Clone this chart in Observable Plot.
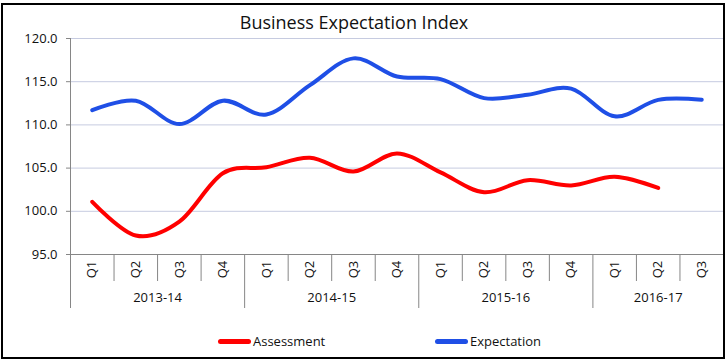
<!DOCTYPE html>
<html><head><meta charset="utf-8">
<script src="https://cdn.jsdelivr.net/npm/d3@7"></script>
<script src="https://cdn.jsdelivr.net/npm/@observablehq/plot@0.6"></script>
<style>
body{margin:0;background:#fff;font-family:"Open Sans",sans-serif;}
#wrap{position:relative;width:728px;height:362px;overflow:hidden;}
#frame{position:absolute;left:1px;top:3px;width:724px;height:356px;box-sizing:border-box;border:2px solid #000;pointer-events:none;}
#title{position:absolute;left:0;top:10px;width:708px;text-align:center;font-size:18px;line-height:24px;color:#111;}
#chart{position:absolute;left:0;top:30px;}
.leg{position:absolute;top:330px;height:22px;display:flex;align-items:center;font-size:13px;color:#111;}
.sw{display:inline-block;width:33px;height:5px;border-radius:3px;margin-right:2px;}
</style>
</head><body>
<div id="wrap">
  <div id="title">Business Expectation Index</div>
  <div id="chart"></div>
  <div class="leg" style="left:218px"><span class="sw" style="background:#ff0000"></span>Assessment</div>
  <div class="leg" style="left:435px"><span class="sw" style="background:#1f4fe6"></span>Expectation</div>
  <div id="frame"></div>
</div>
<script>
const years = ["2013-14", "2014-15", "2015-16", "2016-17"];
const yearCounts = [4, 4, 4, 3];
const quarters = ["Q1","Q2","Q3","Q4","Q1","Q2","Q3","Q4","Q1","Q2","Q3","Q4","Q1","Q2","Q3"];
const assessment = [101.1, 97.2, 98.8, 104.4, 105.1, 106.2, 104.6, 106.7, 104.5, 102.2, 103.6, 103.0, 104.0, 102.7, null];
const expectation = [111.7, 112.8, 110.1, 112.8, 111.2, 114.6, 117.7, 115.6, 115.3, 113.1, 113.5, 114.2, 111.0, 112.9, 112.9];
const yTicks = [95, 100, 105, 110, 115, 120];

const rows = quarters.map((q, i) => ({i, q, a: assessment[i], e: expectation[i]}));
const groups = [];
let s = 0;
years.forEach((y, k) => { groups.push({year: y, start: s, end: s + yearCounts[k]}); s += yearCounts[k]; });
const bounds = d3.range(quarters.length + 1);
const yearBounds = Array.from(new Set(groups.flatMap(g => [g.start, g.end])));
const qBounds = bounds.filter(b => !yearBounds.includes(b));

const axisGray = "#868686";
const chart = Plot.plot({
  width: 728, height: 284,
  marginLeft: 70, marginRight: 5, marginTop: 8, marginBottom: 60,
  style: {fontFamily: '"Open Sans", sans-serif', fontSize: "13px", color: "#111", background: "transparent", overflow: "visible"},
  x: {domain: [0, quarters.length], axis: null},
  y: {domain: [95, 120], axis: null},
  marks: [
    Plot.ruleY(yTicks.filter(v => v > 95), {stroke: "#c6cbe0", strokeWidth: 1}),
    Plot.ruleY(yTicks, {x1: 0, x2: 0, insetLeft: -4, stroke: axisGray}),
    Plot.text(yTicks, {x: 0, y: d => d, text: d => d.toFixed(1), textAnchor: "end", dx: -13, fill: "#111"}),
    Plot.ruleY([95], {stroke: axisGray}),
    Plot.ruleX([0], {y1: 95, y2: 120, stroke: axisGray}),
    Plot.ruleX(qBounds, {x: d => d, y1: 95, y2: 95, insetBottom: -27, stroke: axisGray}),
    Plot.ruleX(yearBounds, {x: d => d, y1: 95, y2: 95, insetBottom: -54, stroke: axisGray}),
    Plot.text(rows, {x: d => d.i + 0.5, y: 95, text: "q", rotate: -90, dy: 15, fill: "#111"}),
    Plot.text(groups, {x: g => (g.start + g.end) / 2, y: 95, text: "year", dy: 43, fill: "#111"}),
    Plot.line(rows.filter(d => d.a != null), {x: d => d.i + 0.5, y: "a", stroke: "#ff0000", strokeWidth: 4, curve: "cardinal", tension: 0}),
    Plot.line(rows, {x: d => d.i + 0.5, y: "e", stroke: "#1f4fe6", strokeWidth: 4, curve: "cardinal", tension: 0})
  ]
});
document.getElementById("chart").appendChild(chart);
</script>
</body></html>
